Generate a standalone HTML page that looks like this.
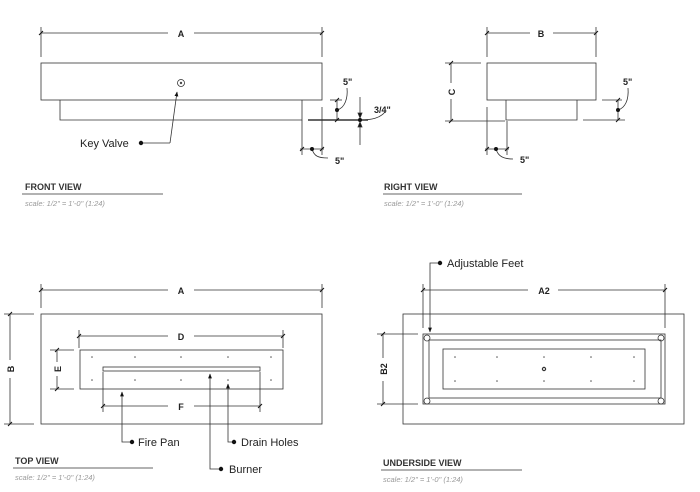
<!DOCTYPE html>
<html><head><style>
html,body{margin:0;padding:0;background:#fff;}
svg{display:block;}
text{font-family:"Liberation Sans","DejaVu Sans",sans-serif;}
.t{font-weight:bold;font-size:9px;fill:#333;}
.s{font-style:italic;font-size:7.5px;fill:#999;}
.d{font-weight:bold;font-size:9px;fill:#222;}
.l{font-size:11px;fill:#222;}
</style></head><body>
<svg width="700" height="492" viewBox="0 0 700 492" xmlns="http://www.w3.org/2000/svg">
<defs>
<marker id="ar" viewBox="0 0 10 10" refX="9" refY="5" markerWidth="6" markerHeight="6" orient="auto"><path d="M0,1 L10,5 L0,9 z" fill="#111"/></marker>
<path id="tk" d="M-2,2 L2,-2" stroke="#111" stroke-width="1"/>
</defs>
<g stroke="#333" stroke-width="0.8" fill="none">
<!-- FRONT VIEW -->
<line x1="41" y1="33" x2="168" y2="33"/><line x1="194" y1="33" x2="322" y2="33"/>
<line x1="41" y1="27" x2="41" y2="57"/><line x1="322" y1="27" x2="322" y2="57"/>
<rect x="41" y="63" width="281" height="37"/>
<polyline points="60,100 60,120 302,120 302,100"/>
<circle cx="181" cy="83" r="3.5"/><circle cx="181" cy="83" r="0.8"/>
<polyline points="170,143 177,92" marker-end="url(#ar)"/>
<line x1="141" y1="143" x2="170" y2="143"/>
<line x1="330" y1="100" x2="342" y2="100"/><line x1="337" y1="100" x2="337" y2="120"/>
<line x1="308" y1="120" x2="368" y2="120" stroke-width="1.4"/>
<path d="M337,110 C345,108 348,98 347,88"/>
<line x1="360" y1="97" x2="360" y2="145"/>
<path d="M360,118 l-2,-5 4,0z M360,122 l-2,5 4,0z" fill="#111"/>
<path d="M360,120 C372,120 380,118 385,112"/>
<line x1="302" y1="120" x2="302" y2="155"/><line x1="322" y1="107" x2="322" y2="155"/>
<line x1="300" y1="149" x2="324" y2="149"/>
<path d="M312,149 C314,156 318,158 328,158"/>
<line x1="22" y1="194" x2="163" y2="194" stroke="#666" stroke-width="1"/>
<!-- RIGHT VIEW -->
<line x1="487" y1="33" x2="530" y2="33"/><line x1="553" y1="33" x2="596" y2="33"/>
<line x1="487" y1="27" x2="487" y2="57"/><line x1="596" y1="27" x2="596" y2="57"/>
<rect x="487" y="63" width="109" height="37"/>
<polyline points="506,100 506,120 577,120 577,100"/>
<line x1="445" y1="63" x2="481" y2="63"/><line x1="445" y1="121" x2="505" y2="121"/>
<line x1="451" y1="63" x2="451" y2="83"/><line x1="451" y1="99" x2="451" y2="121"/>
<line x1="602" y1="100" x2="622" y2="100"/><line x1="583" y1="120" x2="625" y2="120"/>
<line x1="618" y1="100" x2="618" y2="120"/>
<path d="M618,110 C625,108 629,100 628,88"/>
<line x1="487" y1="107" x2="487" y2="155"/><line x1="507" y1="121" x2="507" y2="155"/>
<line x1="485" y1="149" x2="509" y2="149"/>
<path d="M496,149 C498,156 503,159 513,159"/>
<line x1="383" y1="194" x2="522" y2="194" stroke="#666" stroke-width="1"/>
<!-- TOP VIEW -->
<line x1="41" y1="290" x2="168" y2="290"/><line x1="194" y1="290" x2="322" y2="290"/>
<line x1="41" y1="284" x2="41" y2="308"/><line x1="322" y1="284" x2="322" y2="308"/>
<rect x="41" y="314" width="281" height="110"/>
<line x1="4" y1="314" x2="34" y2="314"/><line x1="4" y1="424" x2="34" y2="424"/>
<line x1="10" y1="314" x2="10" y2="360"/><line x1="10" y1="378" x2="10" y2="424"/>
<line x1="79" y1="336" x2="168" y2="336"/><line x1="194" y1="336" x2="283" y2="336"/>
<line x1="79" y1="330" x2="79" y2="348"/><line x1="283" y1="330" x2="283" y2="348"/>
<rect x="80" y="350" width="203" height="39"/>
<line x1="50" y1="350" x2="74" y2="350"/><line x1="50" y1="389" x2="74" y2="389"/>
<line x1="57" y1="350" x2="57" y2="362"/><line x1="57" y1="376" x2="57" y2="389"/>
<rect x="103" y="367" width="157" height="4"/>
<line x1="103" y1="372" x2="103" y2="412"/><line x1="260" y1="372" x2="260" y2="412"/>
<line x1="103" y1="406" x2="168" y2="406"/><line x1="194" y1="406" x2="260" y2="406"/>
<polyline points="132,442 122,442 122,392" marker-end="url(#ar)"/>
<polyline points="221,469 210,469 210,374" marker-end="url(#ar)"/>
<polyline points="234,442 228,442 228,384" marker-end="url(#ar)"/>
<line x1="13" y1="468" x2="153" y2="468" stroke="#666" stroke-width="1"/>
<!-- UNDERSIDE -->
<polyline points="440,263 430,263 430,332" marker-end="url(#ar)"/>
<line x1="423" y1="290" x2="528" y2="290"/><line x1="558" y1="290" x2="665" y2="290"/>
<line x1="423" y1="284" x2="423" y2="328"/><line x1="665" y1="284" x2="665" y2="328"/>
<rect x="403" y="314" width="281" height="110"/>
<rect x="423" y="334" width="242" height="70"/>
<rect x="429" y="340" width="232" height="58"/>
<circle cx="427" cy="338" r="3"/><circle cx="661" cy="338" r="3"/>
<circle cx="427" cy="401" r="3"/><circle cx="661" cy="401" r="3"/>
<rect x="443" y="349" width="202" height="40"/>
<circle cx="544" cy="369" r="1.6" stroke-width="1.2"/>
<line x1="377" y1="334" x2="418" y2="334"/><line x1="377" y1="404" x2="418" y2="404"/>
<line x1="383" y1="334" x2="383" y2="358"/><line x1="383" y1="381" x2="383" y2="404"/>
<line x1="381" y1="470" x2="522" y2="470" stroke="#666" stroke-width="1"/>
</g>
<g>
<use href="#tk" x="41" y="33"/><use href="#tk" x="322" y="33"/>
<use href="#tk" x="337" y="100"/><use href="#tk" x="337" y="120"/>
<use href="#tk" x="302" y="149"/><use href="#tk" x="322" y="149"/>
<use href="#tk" x="487" y="33"/><use href="#tk" x="596" y="33"/>
<use href="#tk" x="451" y="63"/><use href="#tk" x="451" y="121"/>
<use href="#tk" x="618" y="100"/><use href="#tk" x="618" y="120"/>
<use href="#tk" x="487" y="149"/><use href="#tk" x="507" y="149"/>
<use href="#tk" x="41" y="290"/><use href="#tk" x="322" y="290"/>
<use href="#tk" x="10" y="314"/><use href="#tk" x="10" y="424"/>
<use href="#tk" x="79" y="336"/><use href="#tk" x="283" y="336"/>
<use href="#tk" x="57" y="350"/><use href="#tk" x="57" y="389"/>
<use href="#tk" x="103" y="406"/><use href="#tk" x="260" y="406"/>
<use href="#tk" x="423" y="290"/><use href="#tk" x="665" y="290"/>
<use href="#tk" x="383" y="334"/><use href="#tk" x="383" y="404"/>
</g>
<g fill="#111">
<circle cx="141" cy="143" r="2.2"/>
<circle cx="337" cy="110" r="2"/><circle cx="360" cy="120" r="2"/><circle cx="312" cy="149" r="2"/>
<circle cx="618" cy="110" r="2"/><circle cx="496" cy="149" r="2"/>
<circle cx="132" cy="442" r="2.2"/><circle cx="221" cy="469" r="2.2"/><circle cx="234" cy="442" r="2.2"/>
<circle cx="440" cy="263" r="2.2"/>
</g>
<g fill="#555">
<circle cx="92" cy="357" r="0.8"/><circle cx="135" cy="357" r="0.8"/><circle cx="181" cy="357" r="0.8"/><circle cx="228" cy="357" r="0.8"/><circle cx="271" cy="357" r="0.8"/>
<circle cx="92" cy="380" r="0.8"/><circle cx="135" cy="380" r="0.8"/><circle cx="181" cy="380" r="0.8"/><circle cx="228" cy="380" r="0.8"/><circle cx="271" cy="380" r="0.8"/>
<circle cx="455" cy="357" r="0.8"/><circle cx="497" cy="357" r="0.8"/><circle cx="544" cy="357" r="0.8"/><circle cx="591" cy="357" r="0.8"/><circle cx="634" cy="357" r="0.8"/>
<circle cx="455" cy="381" r="0.8"/><circle cx="497" cy="381" r="0.8"/><circle cx="544" cy="381" r="0.8"/><circle cx="591" cy="381" r="0.8"/><circle cx="634" cy="381" r="0.8"/>
</g>
<text class="d" x="181" y="37" text-anchor="middle">A</text>
<text class="d" x="343" y="85">5"</text>
<text class="d" x="374" y="113">3/4"</text>
<text class="d" x="335" y="164">5"</text>
<text class="l" x="80" y="147">Key Valve</text>
<text class="t" x="25" y="190">FRONT VIEW</text>
<text class="s" x="25" y="206">scale: 1/2" = 1'-0" (1:24)</text>
<text class="d" x="541" y="37" text-anchor="middle">B</text>
<text class="d" transform="translate(455,92) rotate(-90)" text-anchor="middle">C</text>
<text class="d" x="623" y="85">5"</text>
<text class="d" x="520" y="163">5"</text>
<text class="t" x="384" y="190">RIGHT VIEW</text>
<text class="s" x="384" y="206">scale: 1/2" = 1'-0" (1:24)</text>
<text class="d" x="181" y="294" text-anchor="middle">A</text>
<text class="d" transform="translate(14,369) rotate(-90)" text-anchor="middle">B</text>
<text class="d" x="181" y="340" text-anchor="middle">D</text>
<text class="d" transform="translate(61,369) rotate(-90)" text-anchor="middle">E</text>
<text class="d" x="181" y="410" text-anchor="middle">F</text>
<text class="l" x="138" y="446">Fire Pan</text>
<text class="l" x="241" y="446">Drain Holes</text>
<text class="l" x="229" y="473">Burner</text>
<text class="t" x="15" y="464">TOP VIEW</text>
<text class="s" x="15" y="480">scale: 1/2" = 1'-0" (1:24)</text>
<text class="l" x="447" y="267">Adjustable Feet</text>
<text class="d" x="544" y="294" text-anchor="middle">A2</text>
<text class="d" transform="translate(387,369) rotate(-90)" text-anchor="middle">B2</text>
<text class="t" x="383" y="466">UNDERSIDE VIEW</text>
<text class="s" x="383" y="482">scale: 1/2" = 1'-0" (1:24)</text>
</svg>
</body></html>
